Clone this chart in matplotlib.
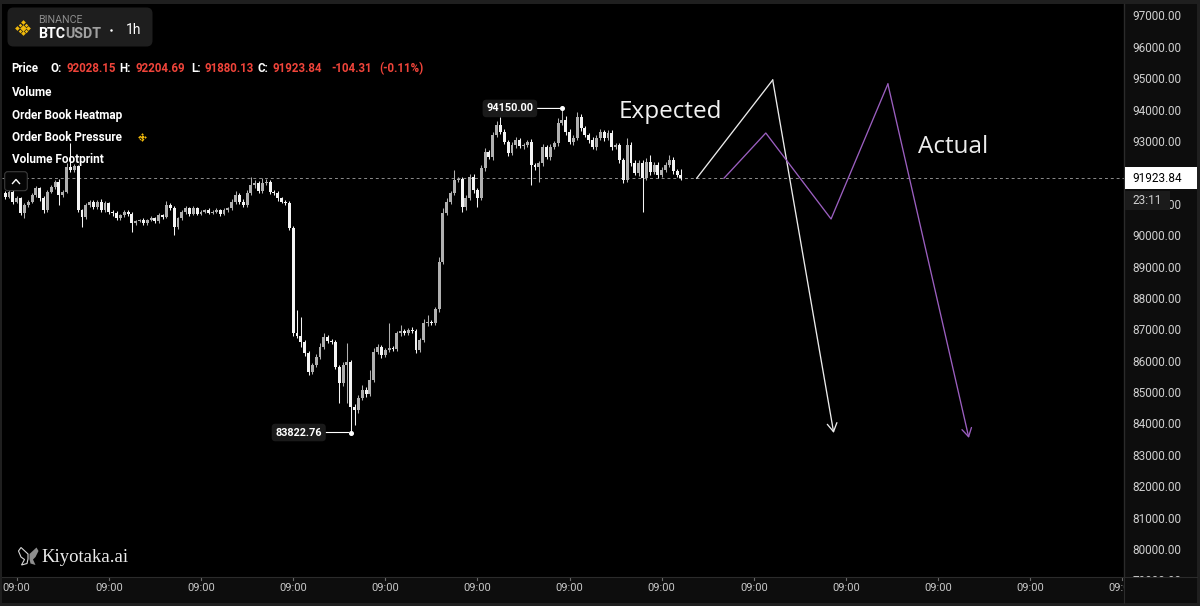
import matplotlib
matplotlib.use('Agg')
import matplotlib.pyplot as plt
import numpy as np
import matplotlib.transforms as mtransforms
from matplotlib.patches import Rectangle, FancyBboxPatch, Polygon

plt.rcParams['font.family'] = ['Roboto', 'DejaVu Sans']

# ---------------- data ----------------
first_open = 91445
closes = [
    91337, 91496, 91178, 91300, 90808, 91072, 91178, 91391, 91604, 91286,
    90913, 91496, 91656, 91815, 91391, 91496, 92293, 92188, 92300, 90913,
    90699, 91072, 91178, 91018, 91178, 90900, 91126, 90859, 90808, 90648,
    90750, 90859, 90780, 90489, 90560, 90594, 90500, 90594, 90648, 90560,
    90754, 90700, 91072, 90967, 90380, 90648, 90859, 90967, 90800, 90967,
    90800, 90859, 90913, 90830, 90859, 90913, 90780, 90913, 90967, 91178,
    91391, 91178, 91072, 91445, 91710, 91764, 91520, 91764, 91815, 91496,
    91445, 91286, 91178, 91126, 90330,
    86983, 86900, 86706, 86350, 85750, 85970, 86230, 86560, 86880, 86750,
    86700, 85900, 85400, 85970, 86080, 84640, 84540, 84920, 85180, 85050,
    85500, 86400, 86560, 86300, 86450, 86520, 86480, 86990, 87050, 87000,
    87100, 87050, 86450, 86770, 87310, 87350, 87300, 87750, 89260, 90810,
    91180, 91450, 91870,
    91900, 91008, 91300, 91965, 91550, 91300, 92252, 92761, 92602, 93303,
    93622, 93400, 93080, 92730, 92984, 93144, 92950, 92980, 93080, 92347,
    92283, 92400, 92920, 92602, 92920, 93048, 93685, 93781, 93399, 93080,
    93208, 93877, 93526, 93300, 93144, 92920, 93200, 93399, 93208, 93367,
    92920, 92984, 92506, 91869, 92984, 92411, 92092, 92411, 91933, 92443,
    92124, 92350, 92028, 92200, 92347, 92506, 92150, 92028.15, 91923.84,
]
upper_wick = [
    60, 80, 50, 70, 40, 60, 50, 60, 70, 50,
    60, 50, 60, 60, 80, 60, 120, 750, 80, 60,
    40, 70, 60, 50, 60, 80, 60, 40, 40, 60,
    50, 40, 50, 60, 40, 40, 50, 40, 60, 40,
    50, 40, 120, 60, 60, 40, 50, 60, 50, 60,
    40, 50, 40, 50, 40, 50, 40, 60, 50, 80,
    120, 60, 80, 100, 265, 120, 60, 160, 80, 60,
    40, 60, 50, 40, 60, 80, 740, 610, 80, 60,
    60, 80, 100, 100, 60, 60, 80, 60, 100, 585,
    60, 80, 100, 150, 80, 314, 100, 80, 60, 80,
    780, 60, 80, 200, 80, 60, 80, 60, 80, 120,
    220, 60, 80, 150, 160, 100, 80, 320, 80, 60,
    100, 80, 90, 60, 80, 120, 80, 100, 120, 255,
    80, 60, 100, 80, 60, 80, 60, 80, 60, 80,
    100, 80, 90, 80, 150, 369, 120, 80, 90, 170,
    100, 80, 60, 80, 100, 90, 60, 80, 100, 60,
    80, 60, 224, 100, 80, 100, 80, 140, 220, 80,
    100, 80, 100, 160, 100, 60, 176.54,
]
lower_wick = [
    60, 50, 70, 50, 60, 160, 60, 50, 60, 70,
    80, 60, 50, 60, 320, 60, 50, 60, 60, 60,
    320, 60, 50, 60, 70, 60, 50, 60, 70, 60,
    50, 60, 60, 270, 50, 40, 60, 50, 40, 60,
    50, 60, 40, 60, 250, 60, 50, 60, 80, 50,
    60, 40, 50, 60, 40, 50, 60, 40, 50, 60,
    60, 80, 70, 60, 50, 80, 60, 70, 60, 60,
    60, 70, 50, 60, 60, 80, 60, 150, 80, 100,
    60, 70, 60, 80, 60, 70, 60, 650, 80, 1208,
    817.24, 480, 80, 60, 80, 60, 80, 60, 100, 80,
    60, 60, 60, 80, 60, 60, 60, 80, 60, 60,
    80, 60, 60, 100, 80, 60, 80, 60, 60, 150,
    80, 60, 80, 280, 60, 80, 60, 80, 60, 80,
    60, 80, 60, 80, 60, 80, 60, 637, 80, 470,
    80, 60, 80, 60, 80, 60, 80, 60, 80, 60,
    80, 60, 80, 60, 80, 60, 80, 60, 80, 60,
    80, 100, 60, 80, 60, 80, 1074, 60, 80, 60,
    80, 60, 80, 60, 80, 60, 43.71,
]
first_hour = -3                      # hour of first candle relative to first 09:00 tick
tick_hours = list(range(0, 289, 24))
tick_labels = ["09:00"] * len(tick_hours)
price_ticks = list(range(79000, 97001, 1000))

expected_h = [177.1, 196.9, 212.8]
expected_p = [91924, 95056, 83807]
actual_h = [184.2, 195.1, 212.1, 226.9, 248.0]
actual_p = [91924, 93367, 90627, 94929, 83648]

ohlc_text = [("O:", "92028.15"), ("H:", "92204.69"), ("L:", "91880.13"), ("C:", "91923.84")]
change_text = ["-104.31", "(-0.11%)"]
indicator_rows = ["Volume", "Order Book Heatmap", "Order Book Pressure", "Volume Footprint"]

# ---------------- derived ----------------
c = np.array(closes, dtype=float)
o = np.concatenate([[first_open], c[:-1]])
hi = np.maximum(o, c) + np.array(upper_wick)
lo = np.minimum(o, c) - np.array(lower_wick)
hours = np.arange(len(c)) + first_hour
up = c >= o
col = np.where(up, '#b0b0b0', '#f4f4f4')
last = c[-1]

W, H = 1200, 606
fig = plt.figure(figsize=(12, 6.06), dpi=100, facecolor='#1f1f1f')

def px_axes(l, t, r, b, **kw):
    return fig.add_axes([l / W, 1 - b / H, (r - l) / W, (b - t) / H], **kw)

def clean(a):
    a.set_xticks([]); a.set_yticks([])
    for s in a.spines.values():
        s.set_visible(False)

XL = (-3.83, 288.4)
YL = (79218, 97478)

ax = px_axes(2, 4, 1124, 577, facecolor='black')
ax.set_xlim(*XL); ax.set_ylim(*YL)
clean(ax)

# candles
body_h = np.maximum(np.abs(c - o), 14)
ax.vlines(hours, lo, hi, colors=col, linewidth=0.75, zorder=2)
ax.bar(hours, body_h, bottom=np.minimum(o, c), width=0.76, color=col, linewidth=0, zorder=3)

# last price dashed line
ax.axhline(last, color='#8c8c8c', lw=0.7, ls=(0, (3, 3)), zorder=1)

# high / low labels
ih = int(np.argmax(hi)); il = int(np.argmin(lo))
for idx, val, dx in [(ih, hi[ih], -52), (il, lo[il], -52)]:
    ax.plot([hours[idx]], [val], 'o', color='white', ms=2.6, zorder=5)
    ax.annotate(f"{val:.2f}", xy=(hours[idx], val), xytext=(dx, 0), textcoords='offset pixels',
                ha='center', va='center', color='white', fontsize=7.8, fontweight='bold',
                bbox=dict(boxstyle='round,pad=0.35', fc='#1a1a1a', ec='none'),
                arrowprops=dict(arrowstyle='-', color='white', lw=0.8, shrinkA=0, shrinkB=1.5),
                zorder=5)

# expected / actual paths
ax.plot(expected_h[:-1], expected_p[:-1], color='#ececec', lw=0.95, zorder=4)
ax.annotate('', xy=(expected_h[-1], expected_p[-1]), xytext=(expected_h[-2], expected_p[-2]),
            arrowprops=dict(arrowstyle='->,head_length=0.6,head_width=0.35', color='#ececec', lw=0.95,
                            shrinkA=0, shrinkB=0), zorder=4)
ax.plot(actual_h[:-1], actual_p[:-1], color='#9b5fc0', lw=0.95, zorder=4)
ax.annotate('', xy=(actual_h[-1], actual_p[-1]), xytext=(actual_h[-2], actual_p[-2]),
            arrowprops=dict(arrowstyle='->,head_length=0.6,head_width=0.35', color='#9b5fc0', lw=0.95,
                            shrinkA=0, shrinkB=0), zorder=4)

# ---------------- right price axis ----------------
ax_r = px_axes(1124, 4, 1197, 577, facecolor='#0d0d0d')
ax_r.set_xlim(0, 1); ax_r.set_ylim(*YL)
clean(ax_r)
ax_r.spines['left'].set_visible(True); ax_r.spines['left'].set_color('#2b2b2b'); ax_r.spines['left'].set_linewidth(1)
bl = mtransforms.blended_transform_factory(ax_r.transAxes, ax_r.transData)
lab_tr = mtransforms.offset_copy(bl, fig=fig, x=0, y=2, units='dots')
dollar_per_px = (YL[1] - YL[0]) / 573.0
for p in price_ticks:
    if abs(p - last) < 12 * dollar_per_px:
        continue   # fully hidden behind the last-price box
    ax_r.text(0.45, p, f"{p:.2f}", transform=lab_tr, ha='center', va='center',
              color='#cfcfcf', fontsize=8.5, clip_on=True)
ax_r.add_patch(Rectangle((0.01, last - 11 * dollar_per_px), 0.99, 22 * dollar_per_px,
                         transform=bl, fc='white', ec='none', zorder=5))
ax_r.text(0.11, last, f"{last:.2f}", transform=bl, ha='left', va='center', color='black',
          fontsize=8.5, zorder=6)
ax_r.add_patch(Rectangle((0.01, last - 31.5 * dollar_per_px), 0.62, 19 * dollar_per_px,
                         transform=bl, fc='#1b1b1b', ec='none', zorder=5))
ax_r.text(0.11, last - 22 * dollar_per_px, "23:11", transform=bl, ha='left', va='center',
          color='#d0d0d0', fontsize=8.5, zorder=6)

# ---------------- bottom time axis ----------------
ax_b = px_axes(2, 577, 1124, 603, facecolor='#0d0d0d')
ax_b.set_xlim(*XL); ax_b.set_ylim(0, 1)
clean(ax_b)
ax_b.spines['top'].set_visible(True); ax_b.spines['top'].set_color('#2b2b2b')
for h, lab in zip(tick_hours, tick_labels):
    ax_b.text(h, 0.58, lab, ha='center', va='center', color='#c8c8c8', fontsize=8, clip_on=True)
    ax_b.plot([h, h], [1, 0.88], color='#6a6a6a', lw=0.8, clip_on=True)
ax_c = px_axes(1124, 577, 1197, 603, facecolor='#0d0d0d')
clean(ax_c)
ax_c.spines['left'].set_visible(True); ax_c.spines['left'].set_color('#2b2b2b')
ax_c.spines['top'].set_visible(True); ax_c.spines['top'].set_color('#2b2b2b')

# ---------------- overlay decorations ----------------
ov = fig.add_axes([0, 0, 1, 1], facecolor='none')
ov.set_xlim(0, W); ov.set_ylim(H, 0)
clean(ov)
ov.set_zorder(10)

def binance_logo(cx, cy, s):
    ov.plot([cx], [cy], 'D', color='#f0b90b', ms=3.4 * s, mew=0)
    for dx, dy in [(-1, 0), (1, 0), (0, -1), (0, 1)]:
        ov.plot([cx + dx * 5.4 * s], [cy + dy * 5.4 * s], 'D', color='#f0b90b', ms=2.4 * s, mew=0)
    for dx, dy in [(-1, -1), (1, -1), (-1, 1), (1, 1)]:
        ov.plot([cx + dx * 3.0 * s], [cy + dy * 3.0 * s], 'D', color='#f0b90b', ms=1.8 * s, mew=0)

ov.add_patch(FancyBboxPatch((7.5, 7.5), 145, 39, boxstyle='round,pad=0,rounding_size=6',
                            fc='#1e1e1e', ec='none'))
binance_logo(22.7, 27.5, 1.0)
ov.text(37.7, 20, "BINANCE", color='#8d8d8d', fontsize=7.7, va='center', ha='left')
t1 = ov.text(37.7, 34.5, "BTC", color='white', fontsize=10.3, fontweight='bold', va='center', ha='left')
fig.canvas.draw()
bb = t1.get_window_extent()
x_usdt = 37.7 + bb.width
ov.text(x_usdt, 34.5, "USDT", color='#a0a0a0', fontsize=10.3, fontweight='bold', va='center', ha='left')
ov.plot([111], [29.5], 'o', color='white', ms=1.8, mew=0)
ov.text(126, 29.5, "1h", color='white', fontsize=10, va='center', ha='left')

# OHLC row
row_y = 68.3
ov.text(11.7, row_y, "Price", color='white', fontsize=8.3, fontweight='bold', va='center')
xs = [(50.7, 66.7), (119.3, 135), (191.7, 204.3), (257.7, 272.7)]
for (lx, vx), (k, v) in zip(xs, ohlc_text):
    ov.text(lx, row_y, k, color='white', fontsize=8.3, fontweight='bold', va='center')
    ov.text(vx, row_y, v, color='#f0443a', fontsize=8.3, fontweight='bold', va='center')
ov.text(331, row_y, change_text[0], color='#f0443a', fontsize=8.3, fontweight='bold', va='center')
ov.text(379, row_y, change_text[1], color='#f0443a', fontsize=8.3, fontweight='bold', va='center')
for y, lab in zip([92.3, 115, 137.3, 160], indicator_rows):
    ov.text(11.7, y, lab, color='white', fontsize=8.5, fontweight='bold', va='center')
binance_logo(141.7, 137.3, 0.55)

# collapse button
ov.add_patch(FancyBboxPatch((4.7, 171.7), 22.6, 19, boxstyle='round,pad=0,rounding_size=3',
                            fc='#050505', ec='#3c3c3c', lw=0.8))
ov.plot([12.5, 16, 19.5], [183.5, 179.5, 183.5], color='white', lw=1.0)

# Expected / Actual labels
ov.text(619, 117.5, "Expected", color='#f2f2f2', fontsize=17.5, fontweight='medium',
        family=['Open Sans', 'DejaVu Sans'], ha='left', va='baseline')
ov.text(918, 152.7, "Actual", color='#ececec', fontsize=17.5, fontweight='medium',
        family=['Open Sans', 'DejaVu Sans'], ha='left', va='baseline')

# watermark
ov.add_patch(Polygon([(28, 554), (21, 547.5), (18.5, 551), (21, 557), (24.5, 559.5), (21.5, 565),
                      (27, 563.5), (28, 559)], closed=True, fc='none', ec='#d8d8d8', lw=0.8))
ov.add_patch(Polygon([(29.5, 554), (36.5, 547.5), (38.5, 551), (35.5, 557), (33, 559.5), (35.5, 565),
                      (30.5, 563.5), (29.5, 559)], closed=True, fc='#8e8e8e', ec='none'))
ov.text(41.5, 557, "Kiyotaka.ai", color='#ececec', fontsize=13.5,
        family=['Liberation Serif', 'DejaVu Serif'], ha='left', va='center')

fig.savefig('out.png', dpi=100, facecolor=fig.get_facecolor())
